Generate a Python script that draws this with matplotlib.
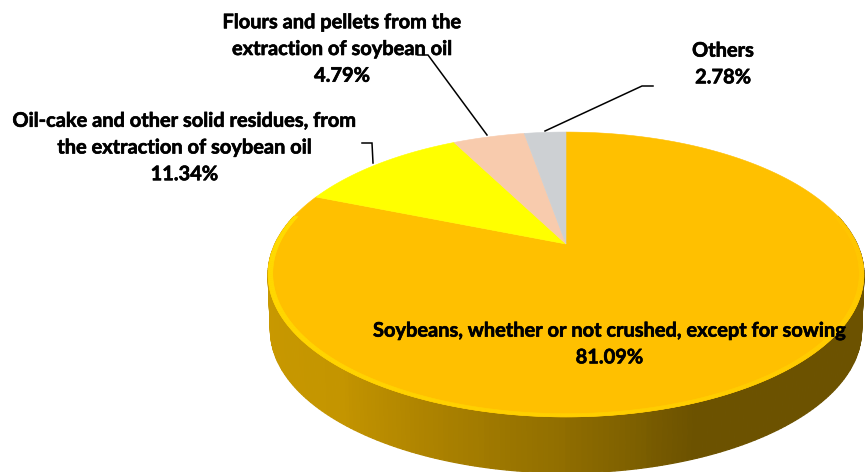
import numpy as np
import matplotlib
matplotlib.use("Agg")
import matplotlib.pyplot as plt
import matplotlib.patheffects as pe
from matplotlib.patches import Polygon
from matplotlib.colors import LinearSegmentedColormap

# Data, clockwise from 12 o'clock
labels = ["Soybeans, whether or not crushed, except for sowing",
          "Oil-cake and other solid residues, from\nthe extraction of soybean oil",
          "Flours and pellets from the\nextraction of soybean oil",
          "Others"]
values = [81.09, 11.34, 4.79, 2.78]
colors = ["#FFC000", "#FFFF00", "#F8CBAD", "#CDD0D3"]

# Pie geometry in pixels (a perspective view of a flat disc)
CX, CY, A, P, K = 566.0, 244.0, 291.0, -83.7, 0.214
DEPTH = 56.0


def project(u, v, depth=0.0):
    w = 1 + K * v
    scale = 0.992 if depth > 0 else 1.0
    return CX + scale * A * u / w, (CY + P * v) / w + depth


def on_circle(theta, r=1.0):
    return r * np.sin(theta), r * np.cos(theta)


fig = plt.figure(figsize=(8.66, 4.72), dpi=100, facecolor="white")
ax = fig.add_axes([0, 0, 1, 1])
ax.set_xlim(0, 866)
ax.set_ylim(472, 0)
ax.axis("off")

# Side wall, shaded from left to right
side_cmap = LinearSegmentedColormap.from_list(
    "side", [(0.0, "#CC9C00"), (0.3, "#C49500"), (0.38, "#B08500"),
             (0.5, "#8F6D00"), (0.6, "#6C5200"), (1.0, "#6C5200")])
rim_cmap = LinearSegmentedColormap.from_list(
    "rim", [(0.0, "#FFDC00"), (0.45, "#FFD000"), (0.8, "#FFCB00"), (1.0, "#FFC400")])
n = 240
tangent = np.arcsin(K)
thetas = np.linspace(np.pi * 1.5 + tangent, np.pi * 0.5 - tangent, n + 1)

# Top surface wedges, computed from the values
fractions = np.array(values) / sum(values)
edges = np.concatenate([[0], np.cumsum(fractions)]) * 2 * np.pi
for start, end, color in zip(edges[:-1], edges[1:], colors):
    th = np.linspace(start, end, 300)
    u, v = on_circle(th)
    px, py = project(u, v)
    pts = np.column_stack([np.r_[CX, px], np.r_[CY, py]])
    ax.add_patch(Polygon(pts, closed=True, facecolor=color, edgecolor=color, lw=0.4, zorder=3))

for i in range(n):
    th = np.array([thetas[i], thetas[i + 1]])
    u, v = on_circle(th)
    tx, ty = project(u, v)
    bx, by = project(u, v, DEPTH)
    pts = np.column_stack([np.r_[tx, bx[::-1]], np.r_[ty, by[::-1]]])
    c = side_cmap(i / n)
    ax.add_patch(Polygon(pts, closed=True, facecolor=c, edgecolor=c, lw=0.9, zorder=2))
    # bright rim along the front edge of the top surface
    iu, iv = on_circle(th, 0.985)
    ix, iy = project(iu, iv)
    rim = np.column_stack([np.r_[tx, ix[::-1]], np.r_[ty, iy[::-1]]])
    rc = rim_cmap(i / n)
    ax.add_patch(Polygon(rim, closed=True, facecolor=rc, edgecolor=rc, lw=0.4, zorder=4))

# Leader lines
leaders = [([373, 372, 362], [163, 143, 143]),
           ([487, 428, 418], [135, 55, 55]),
           ([545, 642, 653], [131, 86, 86])]
for lx, ly in leaders:
    ax.plot(lx, ly, color="black", lw=1.1, zorder=5, solid_joinstyle="miter")

# Labels
font = dict(family="Lato", weight="bold", fontsize=14.4, color="black",
            ha="center", va="center", linespacing=1.42, zorder=6,
            path_effects=[pe.withStroke(linewidth=0.45, foreground="black")])
ax.text(609.5, 344, f"{labels[0]}\n{values[0]:.2f}%", **font)
ax.text(184.5, 147.5, f"{labels[1]}\n{values[1]:.2f}%", **font)
ax.text(342, 49, f"{labels[2]}\n{values[2]:.2f}%", **font)
ax.text(723, 64, f"{labels[3]}\n{values[3]:.2f}%", **font)

fig.savefig("out.png", dpi=100, facecolor="white")
